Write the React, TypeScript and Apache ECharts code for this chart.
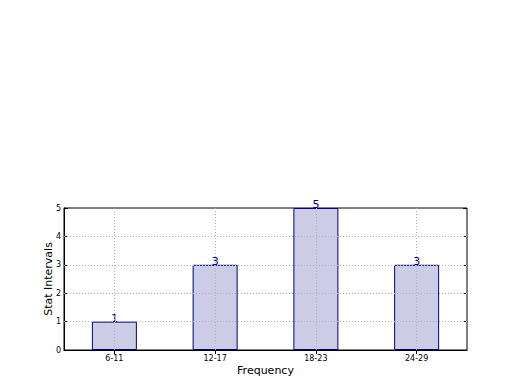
import React, { useEffect, useRef } from "react";
import * as echarts from "echarts";

const categories = ["6-11", "12-17", "18-23", "24-29"];
const counts = [1, 3, 5, 3];
const yTicks = [0, 1, 2, 3, 4, 5];
const xTitle = "Frequency";
const yTitle = "Stat Intervals";

export default function App() {
  const ref = useRef<HTMLDivElement>(null);
  useEffect(() => {
    if (!ref.current) return;
    const chart = echarts.init(ref.current, null, { renderer: "svg" });
    const font = "DejaVu Sans";
    const gridLine = {
      color: "#b0b0b0",
      type: [1, 2] as any,
      width: 1,
    };
    const markData: any[] = [
      ...categories.map((c) => ({ xAxis: c })),
      ...yTicks.slice(1, -1).map((v) => ({ yAxis: v })),
    ];
    chart.setOption({
      animation: false,
      backgroundColor: "#ffffff",
      grid: {
        left: 64,
        top: 208,
        width: 403,
        height: 142,
        show: true,
        borderColor: "#000000",
        borderWidth: 1,
        backgroundColor: "transparent",
      },
      xAxis: [
        {
          type: "category",
          data: categories,
          name: xTitle,
          nameLocation: "middle",
          nameGap: 15,
          nameTextStyle: { fontFamily: font, fontSize: 11, color: "#000" },
          axisLine: { show: true, lineStyle: { color: "#000" } },
          axisTick: { show: true, inside: true, length: 4, alignWithLabel: true, lineStyle: { color: "#000" } },
          axisLabel: { fontFamily: font, fontSize: 8, color: "#000", margin: 4 },
          splitLine: { show: false },
        },
        {
          type: "category",
          data: categories,
          position: "top",
          axisLine: { show: false },
          axisTick: { show: true, inside: true, length: 4, alignWithLabel: true, lineStyle: { color: "#000" } },
          axisLabel: { show: false },
          splitLine: { show: false },
        },
      ],
      yAxis: [
        {
          type: "value",
          min: 0,
          max: 5,
          interval: 1,
          name: yTitle,
          nameLocation: "middle",
          nameGap: 10,
          nameMoveOverlap: false,
          nameTextStyle: { fontFamily: font, fontSize: 11, color: "#000" },
          axisLine: { show: true, lineStyle: { color: "#000" } },
          axisTick: { show: true, inside: true, length: 4, lineStyle: { color: "#000" } },
          axisLabel: { fontFamily: font, fontSize: 8, color: "#000", margin: 3 },
          splitLine: { show: false },
        },
        {
          type: "value",
          min: 0,
          max: 5,
          interval: 1,
          position: "right",
          axisLine: { show: false },
          axisTick: { show: true, inside: true, length: 4, lineStyle: { color: "#000" } },
          axisLabel: { show: false },
          splitLine: { show: false },
        },
      ],
      series: [
        {
          type: "bar",
          data: counts,
          barWidth: 45,
          itemStyle: { color: "#cccce6", borderColor: "#000080", borderWidth: 1 },
          label: {
            show: true,
            position: "top",
            distance: -2,
            fontFamily: font,
            fontSize: 11,
            color: "#000080",
          },
          markLine: {
            silent: true,
            symbol: "none",
            label: { show: false },
            lineStyle: gridLine,
            data: markData,
            z: 5,
          },
        },
      ],
    });
    return () => chart.dispose();
  }, []);
  return (
    <div
      ref={ref}
      style={{ position: "absolute", left: 0, top: 0, width: 520, height: 390 }}
    />
  );
}
